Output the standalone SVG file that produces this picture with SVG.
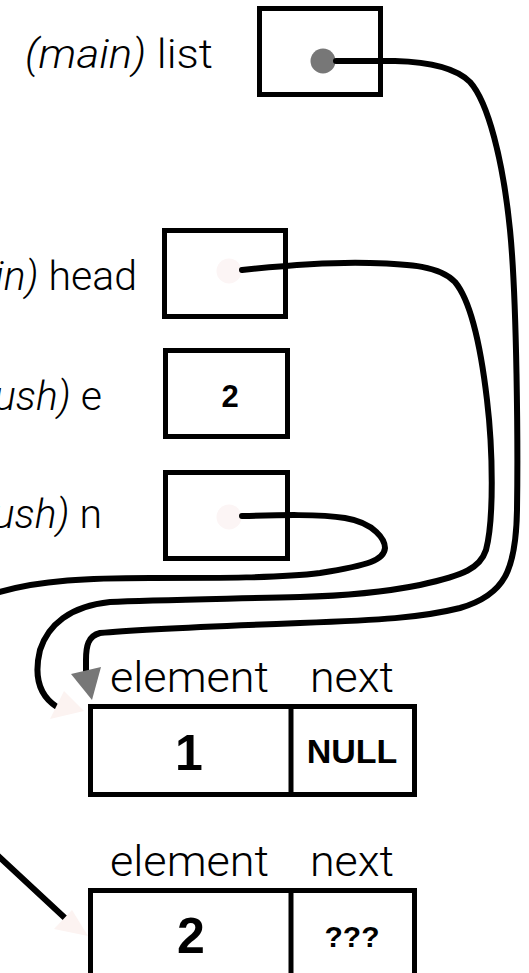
<svg xmlns="http://www.w3.org/2000/svg" width="529" height="973" viewBox="0 0 529 973">
<style>
.box{fill:none;stroke:#000;stroke-width:5}
.lbl{font-family:Roboto,"Liberation Sans",Arial,sans-serif;font-weight:300;font-size:41px;fill:#000}
.it{font-style:italic}
.fld{font-family:Roboto,"Liberation Sans",Arial,sans-serif;font-weight:300;font-size:42px;fill:#000}
.val{font-family:"Liberation Sans",Arial,sans-serif;font-weight:bold;fill:#000;text-anchor:middle}
.wire{fill:none;stroke:#000;stroke-width:6;stroke-linecap:round;stroke-linejoin:round}
</style>
<rect width="529" height="973" fill="#fff"/>
<g id="list">
<text class="lbl" x="25" y="68" font-size="38" textLength="188" lengthAdjust="spacingAndGlyphs"><tspan class="it">(main)</tspan> list</text>
<rect class="box" x="259.5" y="8.5" width="121" height="86"/>
<circle cx="323" cy="61" r="12.5" fill="#777"/>
</g>
<g id="head">
<text class="lbl" x="137" y="290" text-anchor="end"><tspan class="it">(main)</tspan> head</text>
<rect class="box" x="164.5" y="230.5" width="121" height="86"/>
<circle cx="229" cy="271" r="12.5" fill="#fcf5f5"/>
</g>
<g id="e">
<text class="lbl" x="102" y="410" text-anchor="end"><tspan class="it">(push)</tspan> e</text>
<rect class="box" x="165.5" y="350.5" width="122" height="86"/>
<text class="val" x="230" y="407" font-size="31">2</text>
</g>
<g id="n">
<text class="lbl" x="102" y="528" text-anchor="end"><tspan class="it">(push)</tspan> n</text>
<rect class="box" x="165.5" y="472.5" width="122" height="86"/>
<circle cx="229" cy="517" r="12.5" fill="#fcf5f5"/>
</g>
<g id="node1">
<text class="fld" x="110" y="692" textLength="159" lengthAdjust="spacingAndGlyphs">element</text>
<text class="fld" x="310" y="692" textLength="84" lengthAdjust="spacingAndGlyphs">next</text>
<rect class="box" x="90.5" y="706.5" width="324" height="88"/>
<line x1="291" y1="706.5" x2="291" y2="794.5" stroke="#000" stroke-width="5"/>
<text class="val" x="189" y="770" font-size="50">1</text>
<text class="val" x="352" y="763" font-size="34">NULL</text>
</g>
<g id="node2">
<text class="fld" x="110" y="876" textLength="159" lengthAdjust="spacingAndGlyphs">element</text>
<text class="fld" x="310" y="876" textLength="84" lengthAdjust="spacingAndGlyphs">next</text>
<rect class="box" x="90.5" y="890.5" width="324" height="88"/>
<line x1="291" y1="890.5" x2="291" y2="978" stroke="#000" stroke-width="5"/>
<text class="val" x="191" y="953" font-size="50">2</text>
<text class="val" x="352" y="947" font-size="30">???</text>
</g>
<g id="connectors">
<path class="wire" d="M336,61 H395 C435,62 458,70 470,82 C488,102 503,160 510,230 C517,300 518,450 517,510 C516,570 505,595 460,608 C420,618 380,620 300,623 C220,626 140,629 100,633 C88,636 86,646 86,660 L86,676"/>
<polygon points="71,674 101,667 92,700" fill="#777"/>
<path class="wire" d="M242,270 C290,265 340,262 370,263 C410,264 440,266 455,282 C470,300 480,340 487,400 C493,450 494,520 486,550 C480,568 465,575 420,585 C380,593 340,596 300,597 C220,599 150,600 110,602 C70,606 48,625 40,650 C34,675 38,695 57,707"/>
<polygon points="50,719 64,691 84,711" fill="#fcf3f1"/>
<path class="wire" d="M242,516 C280,515 320,514 345,518 C375,523 385,540 385,548 C384,560 370,565 320,573 C280,578 220,578 150,578 C90,578 40,580 0,592"/>
<path class="wire" d="M-5,853 L65,918"/>
<polygon points="54,929 72,910 88,936" fill="#fcf3f1"/>
</g>
</svg>
